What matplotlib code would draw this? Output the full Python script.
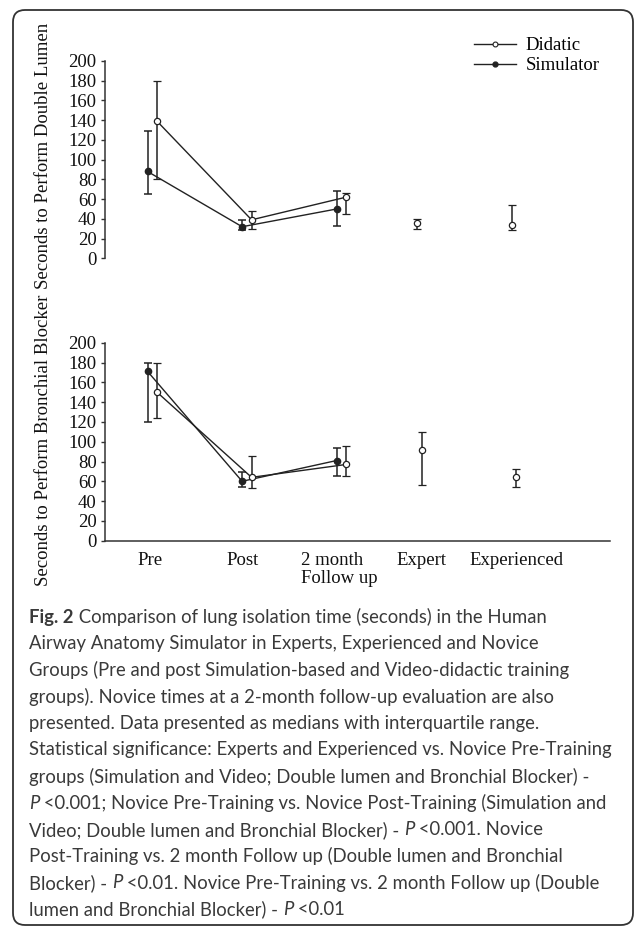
import numpy as np
import matplotlib
matplotlib.use("Agg")
import matplotlib.pyplot as plt
from matplotlib.lines import Line2D
from matplotlib.patches import FancyBboxPatch
from matplotlib.transforms import IdentityTransform

# categories on the x axis
categories = ["Pre", "Post", "2 month\nFollow up", "Expert", "Experienced"]

# double lumen (top panel): medians and interquartile range
dl_did_med = [139, 39, 62]
dl_did_lo = [80, 30, 45]
dl_did_hi = [180, 48, 66]
dl_sim_med = [88, 32, 50]
dl_sim_lo = [65, 29, 33]
dl_sim_hi = [129, 39, 68]
dl_grp_med = [36, 34]      # Expert, Experienced
dl_grp_lo = [30, 29]
dl_grp_hi = [40, 54]

# bronchial blocker (bottom panel)
bb_did_med = [150, 64, 77]
bb_did_lo = [124, 53, 65]
bb_did_hi = [180, 86, 96]
bb_sim_med = [171, 60, 81]
bb_sim_lo = [120, 54, 65]
bb_sim_hi = [180, 69, 94]
bb_grp_med = [92, 64]
bb_grp_lo = [56, 54]
bb_grp_hi = [110, 72]

caption = [
    [("Fig. 2", "bold"), (" Comparison of lung isolation time (seconds) in the Human", "normal")],
    [("Airway Anatomy Simulator in Experts, Experienced and Novice", "normal")],
    [("Groups (Pre and post Simulation-based and Video-didactic training", "normal")],
    [("groups). Novice times at a 2-month follow-up evaluation are also", "normal")],
    [("presented. Data presented as medians with interquartile range.", "normal")],
    [("Statistical significance: Experts and Experienced vs. Novice Pre-Training", "normal")],
    [("groups (Simulation and Video; Double lumen and Bronchial Blocker) -", "normal")],
    [("P", "italic"), (" <0.001; Novice Pre-Training vs. Novice Post-Training (Simulation and", "normal")],
    [("Video; Double lumen and Bronchial Blocker) - ", "normal"), ("P", "italic"), (" <0.001. Novice", "normal")],
    [("Post-Training vs. 2 month Follow up (Double lumen and Bronchial", "normal")],
    [("Blocker) - ", "normal"), ("P", "italic"), (" <0.01. Novice Pre-Training vs. 2 month Follow up (Double", "normal")],
    [("lumen and Bronchial Blocker) - ", "normal"), ("P", "italic"), (" <0.01", "normal")],
]

W, H = 634, 927
serif = "Liberation Serif"
fs = 13.5
ink = "#222222"

fig = plt.figure(figsize=(W / 100, H / 100), dpi=100)
fig.patch.set_facecolor("white")

x_lines = np.arange(3)
off = 0.05


def panel(ax, did_med, did_lo, did_hi, sim_med, sim_lo, sim_hi,
          grp_med, grp_lo, grp_hi, grp_x):
    ax.plot(x_lines + off, did_med, color=ink, lw=1.0, zorder=2)
    ax.plot(x_lines - off, sim_med, color=ink, lw=1.0, zorder=2)
    ax.errorbar(x_lines - off, sim_med,
                yerr=[np.subtract(sim_med, sim_lo), np.subtract(sim_hi, sim_med)],
                fmt="o", ms=4.5, mfc=ink, mec=ink, ecolor=ink, elinewidth=1.1,
                capsize=3, capthick=1.1, zorder=3)
    ax.errorbar(x_lines + off, did_med,
                yerr=[np.subtract(did_med, did_lo), np.subtract(did_hi, did_med)],
                fmt="o", ms=4.5, mfc="white", mec=ink, mew=0.9, ecolor=ink,
                elinewidth=1.1, capsize=3, capthick=1.1, zorder=3)
    ax.errorbar(grp_x, grp_med,
                yerr=[np.subtract(grp_med, grp_lo), np.subtract(grp_hi, grp_med)],
                fmt="o", ms=4.5, mfc="white", mec=ink, mew=0.9, ecolor=ink,
                elinewidth=1.1, capsize=3, capthick=1.1, zorder=3)
    ax.set_ylim(0, 200)
    ax.set_xlim(-0.5, 4.84)
    ax.set_yticks(np.arange(0, 201, 20))
    ax.tick_params(axis="y", direction="out", length=3, width=1.0, color="#333333",
                   pad=3, labelsize=fs, labelfontfamily=serif, labelcolor="#111111")
    for s in ["top", "right"]:
        ax.spines[s].set_visible(False)
    ax.spines["left"].set_color("#333333")
    ax.spines["left"].set_linewidth(1.1)
    ax.set_facecolor("none")


left, width = 105 / W, 505 / W
ax1 = fig.add_axes([left, 1 - 258.3 / H, width, 197.3 / H])
ax2 = fig.add_axes([left, 1 - 540.7 / H, width, 198 / H])

panel(ax1, dl_did_med, dl_did_lo, dl_did_hi, dl_sim_med, dl_sim_lo, dl_sim_hi,
      dl_grp_med, dl_grp_lo, dl_grp_hi, [2.80, 3.80])
panel(ax2, bb_did_med, bb_did_lo, bb_did_hi, bb_sim_med, bb_sim_lo, bb_sim_hi,
      bb_grp_med, bb_grp_lo, bb_grp_hi, [2.85, 3.85])

ax1.spines["bottom"].set_visible(False)
ax1.set_xticks([])
ax2.spines["bottom"].set_color("#333333")
ax2.spines["bottom"].set_linewidth(1.1)
ax2.set_xticks([-0.02, 0.95, 1.98, 2.85, 3.85])
ax2.set_xticklabels(categories, fontfamily=serif, fontsize=fs, color="#111111")
ax2.tick_params(axis="x", length=0, pad=8)
for t in ax2.get_xticklabels():
    t.set_multialignment("left")
    t.set_linespacing(1.1)

# y labels of the two panels
fig.text(44 / W, 1 - 156 / H, "Seconds to Perform Double Lumen", rotation=90,
         ha="center", va="center", fontfamily=serif, fontsize=fs, color="#111111")
fig.text(44 / W, 1 - 440 / H, "Seconds to Perform Bronchial Blocker", rotation=90,
         ha="center", va="center", fontfamily=serif, fontsize=fs, color="#111111")

handles = [
    Line2D([], [], color=ink, lw=1.0, marker="o", ms=3.5, mfc="white", mec=ink, mew=0.8),
    Line2D([], [], color=ink, lw=1.0, marker="o", ms=3.5, mfc=ink, mec=ink),
]
fig.legend(handles, ["Didatic", "Simulator"], loc="upper left",
           bbox_to_anchor=(474 / W, 1 - 37 / H), bbox_transform=fig.transFigure,
           frameon=False, prop={"family": serif, "size": fs}, handlelength=2.25,
           handletextpad=0.5, labelspacing=0.15, borderpad=0, borderaxespad=0)

# rounded frame
frame = FancyBboxPatch((13, H - 925), 620, 915,
                       boxstyle="round,pad=0,rounding_size=12",
                       transform=IdentityTransform(), fill=False,
                       ec="#333333", lw=1.3)
fig.add_artist(frame)

# caption, drawn run by run so bold / italic pieces sit inline
cap_font = "Lato"
renderer = fig.canvas.get_renderer()
probe = fig.text(0, 0, caption[5][0][0], fontfamily=cap_font, fontsize=10)
pw = probe.get_window_extent(renderer).width
probe.remove()
cap_fs = 10 * (612 - 29) / pw

y0 = 617
for i, runs in enumerate(caption):
    x = 29
    y = H - (y0 + i * 26.6)
    for txt, style in runs:
        t = fig.text(x, y, txt, transform=IdentityTransform(), fontfamily=cap_font,
                     fontsize=cap_fs, color="#3a3a3a", va="center", ha="left",
                     fontweight="bold" if style == "bold" else "normal",
                     fontstyle="italic" if style == "italic" else "normal")
        x += t.get_window_extent(renderer).width

fig.savefig("out.png", dpi=100, facecolor="white")
